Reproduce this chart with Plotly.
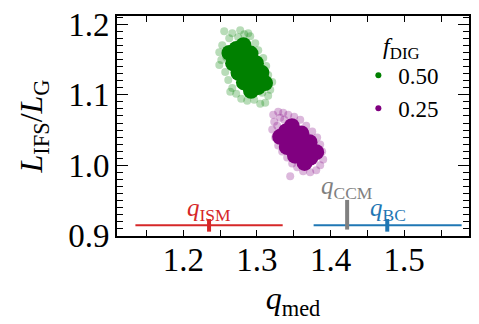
import plotly.graph_objects as go

# ---- data ----
green_core_x = [1.2627, 1.2722, 1.2817, 1.2677, 1.2795, 1.2913, 1.2750, 1.2868, 1.2987,
                1.2824, 1.2942, 1.3060, 1.2920, 1.3015, 1.3110]
green_core_y = [1.1594, 1.1649, 1.1704, 1.1446, 1.1515, 1.1584, 1.1311, 1.1380, 1.1449,
                1.1176, 1.1245, 1.1314, 1.1056, 1.1111, 1.1166]
green_halo_x = [1.2556, 1.2624, 1.2529, 1.2489, 1.2516, 1.2489, 1.2570, 1.2611, 1.2665, 1.2719,
                1.2787, 1.2868, 1.2963, 1.3045, 1.3113, 1.3153, 1.3181, 1.3208, 1.3153, 1.3126,
                1.3086, 1.3018, 1.2977, 1.2909, 1.2828, 1.2746, 1.2665, 1.2584, 1.2638, 1.3072,
                1.2773, 1.2882]
green_halo_y = [1.1901, 1.1802, 1.1704, 1.1605, 1.1492, 1.1422, 1.1324, 1.1211, 1.1098, 1.1014,
                1.0943, 1.0915, 1.0929, 1.0873, 1.0887, 1.0986, 1.1070, 1.1183, 1.1281, 1.1408,
                1.1521, 1.1633, 1.1732, 1.1830, 1.1859, 1.1816, 1.1873, 1.1535, 1.1042, 1.1028,
                1.1915, 1.1873]

purple_core_x = [1.3316, 1.3395, 1.3474, 1.3406, 1.3505, 1.3604, 1.3517, 1.3616, 1.3715,
                 1.3647, 1.3726, 1.3805]
purple_core_y = [1.0404, 1.0480, 1.0556, 1.0262, 1.0358, 1.0453, 1.0138, 1.0234, 1.0329,
                 1.0035, 1.0111, 1.0187]
purple_halo_x = [1.3221, 1.3289, 1.3357, 1.3425, 1.3316, 1.3235, 1.3208, 1.3248, 1.3289, 1.3343,
                 1.3411, 1.3479, 1.3547, 1.3628, 1.3723, 1.3805, 1.3859, 1.3900, 1.3886, 1.3859,
                 1.3818, 1.3751, 1.3669, 1.3588, 1.3506, 1.3452, 1.3371, 1.3276]
purple_halo_y = [1.0718, 1.0760, 1.0746, 1.0718, 1.0676, 1.0620, 1.0507, 1.0394, 1.0282, 1.0197,
                 1.0113, 1.0028, 0.9972, 0.9916, 0.9901, 0.9930, 1.0000, 1.0084, 1.0197, 1.0296,
                 1.0394, 1.0479, 1.0563, 1.0648, 1.0690, 0.9845, 1.0648, 1.0563]

legend_labels = ["0.50", "0.25"]

# reference ranges of q
ism_range = [1.135, 1.335]
ism_med = 1.235
bc_range = [1.377, 1.578]
bc_med = 1.477
ccm_value = 1.4225
ref_y = 0.915
ccm_y = [0.909, 0.951]

RED = "#d62728"
BLUE = "#1f77b4"
GRAY = "#808080"
GREEN = "#008000"
PURPLE = "#800080"
FONT = "Liberation Serif"

fig = go.Figure()

# clouds
for cx, cy, hx, hy, col in [
    (green_core_x, green_core_y, green_halo_x, green_halo_y, GREEN),
    (purple_core_x, purple_core_y, purple_halo_x, purple_halo_y, PURPLE),
]:
    fig.add_trace(go.Scatter(x=hx, y=hy, mode="markers", showlegend=False,
                             marker=dict(color=col, size=8, opacity=0.28, line=dict(width=0))))
    fig.add_trace(go.Scatter(x=cx, y=cy, mode="markers", showlegend=False,
                             marker=dict(color=col, size=16, opacity=1, line=dict(width=0))))

# legend entries
for lab, col in zip(legend_labels, [GREEN, PURPLE]):
    fig.add_trace(go.Scatter(x=[None], y=[None], mode="markers", name=lab,
                             marker=dict(color=col, size=6)))

# reference ranges
for rng, med, col in [(ism_range, ism_med, RED), (bc_range, bc_med, BLUE)]:
    fig.add_trace(go.Scatter(x=rng, y=[ref_y, ref_y], mode="lines", showlegend=False,
                             line=dict(color=col, width=2)))
    fig.add_trace(go.Scatter(x=[med], y=[ref_y], mode="markers", showlegend=False,
                             marker=dict(symbol="line-ns", size=9, color=col,
                                         line=dict(color=col, width=4))))
fig.add_trace(go.Scatter(x=[ccm_value, ccm_value], y=ccm_y, mode="lines", showlegend=False,
                         line=dict(color=GRAY, width=4)))

fig.add_annotation(x=ism_med, y=0.937, text="<i>q</i><sub>ISM</sub>", showarrow=False,
                   font=dict(family=FONT, size=25, color=RED))
fig.add_annotation(x=bc_med + 0.001, y=0.937, text="<i>q</i><sub>BC</sub>", showarrow=False,
                   font=dict(family=FONT, size=25, color=BLUE))
fig.add_annotation(x=ccm_value, y=0.968, text="<i>q</i><sub>CCM</sub>", showarrow=False,
                   font=dict(family=FONT, size=25, color=GRAY))

axis_common = dict(showline=True, linecolor="black", linewidth=2, mirror="ticks",
                   ticks="inside", tickcolor="black", tickwidth=1.3, showgrid=False,
                   zeroline=False, automargin=False, ticklabeloverflow="allow",
                   tickfont=dict(family=FONT, size=33, color="black"))

fig.update_xaxes(range=[1.11, 1.588], dtick=0.1, tick0=1.0, tickformat=".1f", ticklen=6,
                 ticklabelstandoff=-7,
                 minor=dict(dtick=0.05, tick0=1.0, ticks="inside", ticklen=6, tickwidth=1.3,
                            tickcolor="black", showgrid=False),
                 title=dict(text="<i>q</i><sub>med</sub>", font=dict(family=FONT, size=32),
                            standoff=10),
                 **axis_common)
fig.update_yaxes(range=[0.8999, 1.2117], dtick=0.1, tick0=0.9, tickformat=".1f", ticklen=11,
                 ticklabelstandoff=-1,
                 minor=dict(dtick=0.01, tick0=0.9, ticks="inside", ticklen=6, tickwidth=1.3,
                            tickcolor="black", showgrid=False),
                 title=dict(text="<i>L</i><sub>IFS</sub>/<i>L</i><sub>G</sub>",
                            font=dict(family=FONT, size=32), standoff=16),
                 **axis_common)

# the page body has an 8px margin, so the figure is 8px smaller and offsets reduced
fig.update_layout(
    width=471, height=316,
    margin=dict(l=109, r=10, t=8, b=88),
    paper_bgcolor="white", plot_bgcolor="white",
    font=dict(family=FONT, color="black"),
    legend=dict(x=0.93, y=0.97, xanchor="right", yanchor="top",
                bgcolor="rgba(0,0,0,0)", font=dict(family=FONT, size=23),
                title=dict(text="<i>f</i><sub>DIG</sub>", font=dict(family=FONT, size=24),
                           side="top center"),
                itemwidth=30, tracegroupgap=0),
)

fig.write_html("out.html")
